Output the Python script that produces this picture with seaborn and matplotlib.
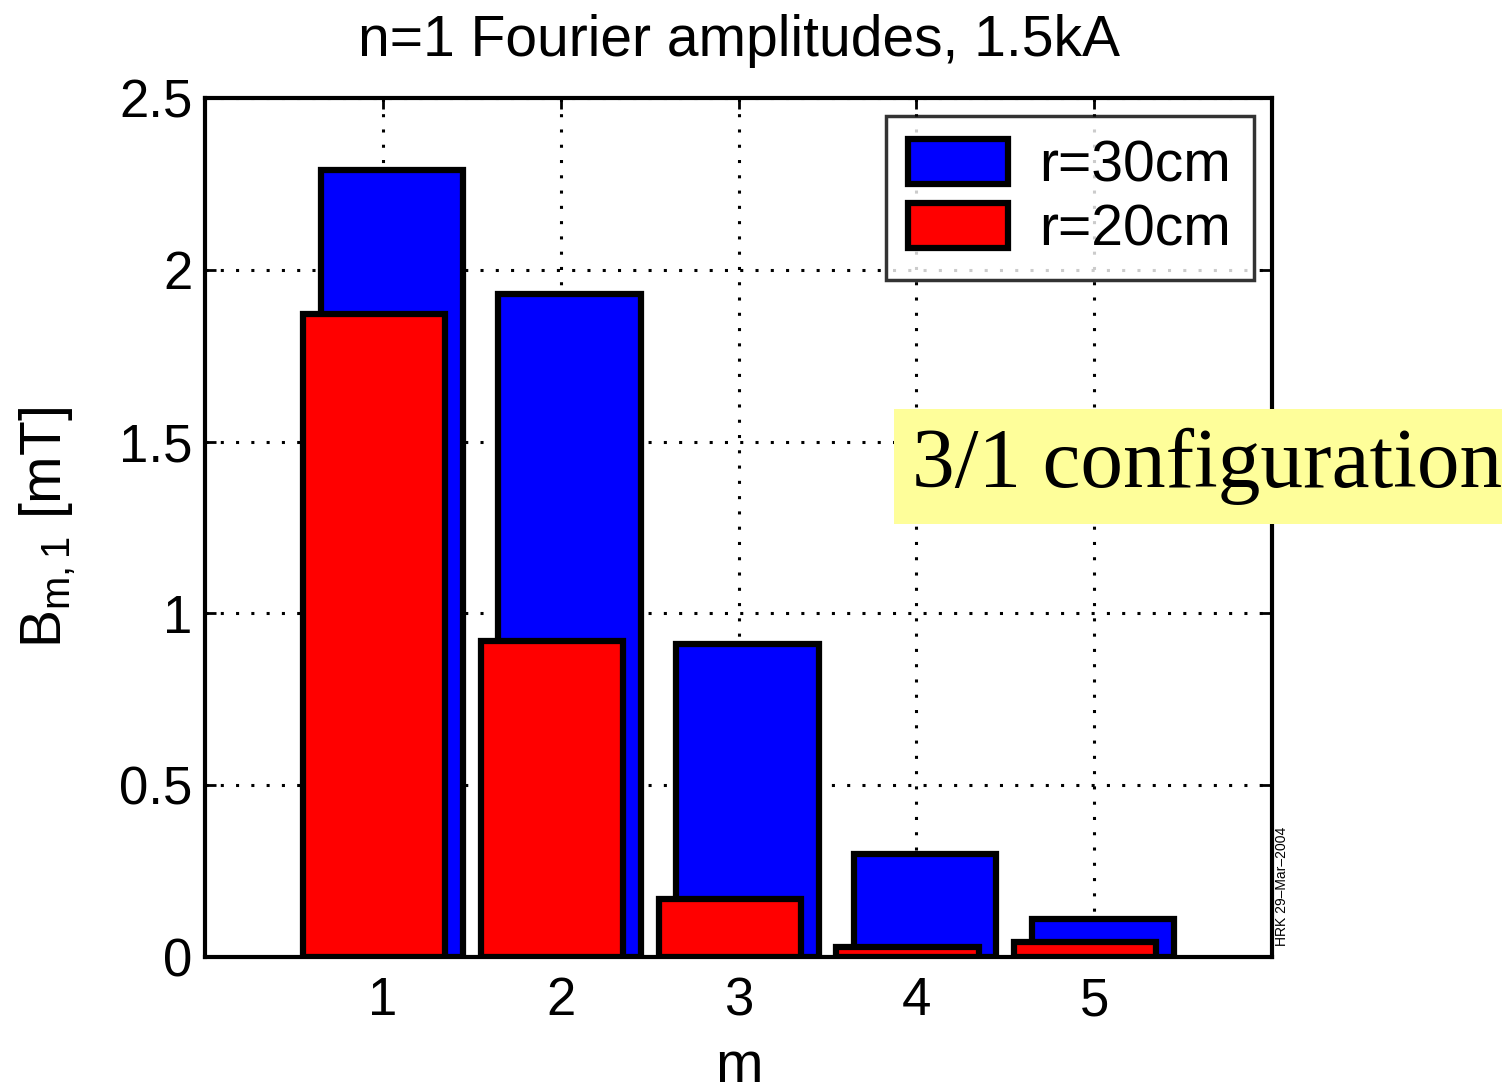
import numpy as np
import pandas as pd
import matplotlib
matplotlib.use("Agg")
import matplotlib.pyplot as plt
import seaborn as sns

m_values = [1, 2, 3, 4, 5]
b_r30 = [2.29, 1.93, 0.91, 0.30, 0.11]
b_r20 = [1.87, 0.92, 0.17, 0.03, 0.045]
series_labels = ["r=30cm", "r=20cm"]
series_colors = ["#0000ff", "#ff0000"]
title_text = "n=1 Fourier amplitudes, 1.5kA"
annotation_text = "3/1 configuration"
stamp_text = "HRK 29\u2013Mar\u20132004"

sns.set_theme(style="white")
plt.rcParams['font.family'] = ['Liberation Sans', 'DejaVu Sans']
plt.rcParams['mathtext.fontset'] = 'custom'
plt.rcParams['mathtext.rm'] = 'Liberation Sans'
plt.rcParams['mathtext.it'] = 'Liberation Sans'
for k in ['text.color', 'axes.labelcolor', 'xtick.color', 'ytick.color']:
    plt.rcParams[k] = 'black'

fig = plt.figure(figsize=(15.02, 10.92), dpi=100)
ax = fig.add_axes([0.1365, 0.1236, 0.7104, 0.7867])

df30 = pd.DataFrame({"m": m_values, "B": b_r30})
df20 = pd.DataFrame({"m": m_values, "B": b_r20})

offsets = [0.05, -0.05]
for df, col, lab, off in zip([df30, df20], series_colors, series_labels, offsets):
    n_before = len(ax.patches)
    sns.barplot(data=df, x="m", y="B", native_scale=True, width=0.8,
                color=col, saturation=1, edgecolor="black", linewidth=4.5,
                label=lab, ax=ax, zorder=3)
    for p in ax.patches[n_before:]:
        p.set_x(p.get_x() + off)
        p.set_joinstyle("miter")

ax.set_xlim(0, 6)
ax.set_ylim(0, 2.5)
ax.set_xticks(m_values)
ax.set_yticks([0, 0.5, 1, 1.5, 2, 2.5])
ax.set_yticklabels(["0", "0.5", "1", "1.5", "2", "2.5"])
ax.tick_params(axis="both", labelsize=38, direction="in", length=8, width=2,
               top=True, right=True, bottom=True, left=True)
ax.tick_params(axis="x", pad=14)
ax.tick_params(axis="y", pad=9)
ax.grid(True, linestyle=(0, (1, 4)), color="black", linewidth=2.2, zorder=0)
ax.set_axisbelow(True)
for s in ax.spines.values():
    s.set_linewidth(3)
    s.set_color("black")
    s.set_zorder(5)

ax.set_title(title_text, fontsize=41, pad=30)
ax.set_xlabel("m", fontsize=41, labelpad=10)
ax.set_ylabel(r"B$_{\mathregular{m,1}}$ [mT]", fontsize=41, labelpad=30)

leg = ax.legend(loc="upper right", fontsize=41, frameon=True, fancybox=False,
                handlelength=1.75, handleheight=0.85, borderpad=0.4,
                labelspacing=0.17, handletextpad=0.55, borderaxespad=0.0,
                bbox_to_anchor=(0.983, 0.979))
leg.get_frame().set_edgecolor("black")
leg.get_frame().set_linewidth(2.5)
leg.set_zorder(10)

fig.text(0.8535, 0.188, stamp_text, rotation=90, fontsize=10,
         ha="center", va="center")

fig.text(0.6075, 0.573, annotation_text, fontsize=61.5,
         family=['Liberation Serif', 'DejaVu Serif'],
         ha="left", va="center",
         bbox=dict(boxstyle="square,pad=0.22", facecolor="#fefe9a",
                   edgecolor="none"), zorder=20)

fig.savefig("out.png", dpi=100)
